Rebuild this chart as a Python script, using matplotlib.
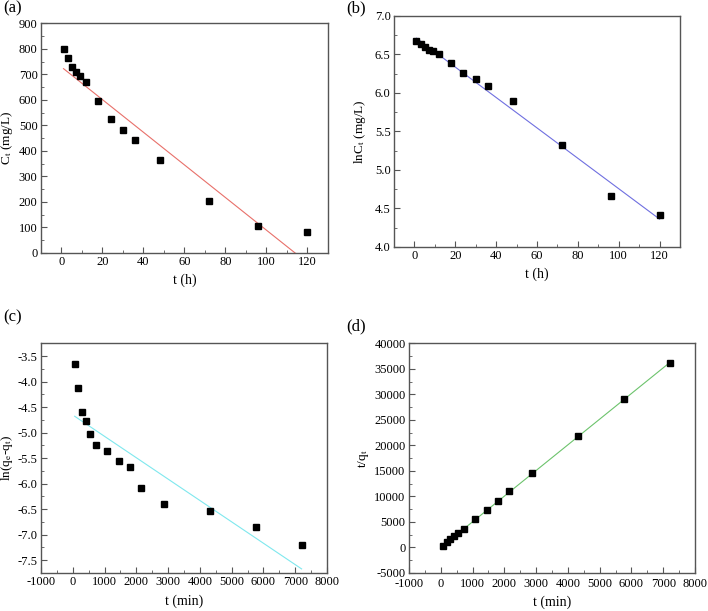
import numpy as np
import matplotlib
matplotlib.use("Agg")
import matplotlib.pyplot as plt
from matplotlib.ticker import AutoMinorLocator

plt.rcParams['font.family'] = ['Liberation Serif', 'DejaVu Serif']
plt.rcParams['mathtext.fontset'] = 'stix'
plt.rcParams['axes.unicode_minus'] = False

# ---------------- data ----------------
t_h = [1, 3, 5, 7, 9, 12, 18, 24, 30, 36, 48, 72, 96, 120]
ct = [800, 762, 728, 707, 694, 671, 596, 524, 483, 443, 363, 205, 106, 82]
ln_ct = [6.68, 6.636, 6.59, 6.56, 6.54, 6.51, 6.39, 6.26, 6.18, 6.09, 5.89, 5.32, 4.66, 4.41]
fit_a = [1, 120]
fit_a_y = [722, -38]
fit_b_y = [6.71, 4.36]

t_min = [60, 180, 300, 420, 540, 720, 1080, 1440, 1800, 2160, 2880, 4320, 5760, 7200]
ln_qe_qt = [-3.66, -4.12, -4.59, -4.77, -5.03, -5.24, -5.36, -5.56, -5.67, -6.09,
            -6.40, -6.54, -6.85, -7.21]
t_qt = [350, 1000, 1600, 2200, 2800, 3700, 5600, 7400, 9200, 11000, 14600, 21800,
        29000, 36200]
fit_c = [60, 7200]
fit_c_y = [-4.68, -7.67]
fit_d_y = [300, 36200]

fig = plt.figure(figsize=(7.08, 6.11), dpi=100)
axa = fig.add_axes([0.0579, 0.586, 0.405, 0.376])
axb = fig.add_axes([0.5565, 0.596, 0.404, 0.378])
axc = fig.add_axes([0.0579, 0.0622, 0.404, 0.376])
axd = fig.add_axes([0.5777, 0.0622, 0.404, 0.376])


def style(ax, ylab_x):
    for s in ax.spines.values():
        s.set_color('#555555')
        s.set_linewidth(1.0)
    ax.xaxis.set_minor_locator(AutoMinorLocator(2))
    ax.yaxis.set_minor_locator(AutoMinorLocator(2))
    ax.tick_params(which='both', direction='in', top=False, right=False,
                   labelsize=9, color='#555555', pad=2.5)
    ax.tick_params(which='major', length=4)
    ax.tick_params(which='minor', length=2)
    ax.yaxis.set_label_coords(ylab_x, 0.5)


mk = dict(marker='s', ls='none', color='black', ms=4.5)

# (a)
axa.plot(fit_a, fit_a_y, color='#e8706a', lw=0.8)
axa.plot(t_h, ct, **mk)
axa.set_xlim(-10, 130)
axa.set_ylim(0, 900)
axa.set_xticks(range(0, 121, 20))
axa.set_yticks(range(0, 901, 100))
axa.set_xlabel('t (h)', fontsize=10)
axa.set_ylabel('C$_{\\mathrm{t}}$ (mg/L)', fontsize=9.5)
style(axa, -0.09)

# (b)
axb.plot(fit_a, fit_b_y, color='#6f6fe0', lw=0.8)
axb.plot(t_h, ln_ct, **mk)
axb.set_xlim(-10, 130)
axb.set_ylim(4.0, 7.0)
axb.set_xticks(range(0, 121, 20))
axb.set_yticks(np.arange(4.0, 7.01, 0.5))
axb.yaxis.set_major_formatter(plt.FormatStrFormatter('%.1f'))
axb.set_xlabel('t (h)', fontsize=10)
axb.set_ylabel('lnC$_{\\mathrm{t}}$ (mg/L)', fontsize=9.5)
style(axb, -0.091)

# (c)
axc.plot(fit_c, fit_c_y, color='#7fe8ee', lw=0.8)
axc.plot(t_min, ln_qe_qt, **mk)
axc.set_xlim(-1000, 8000)
axc.set_ylim(-7.75, -3.25)
axc.set_xticks(range(-1000, 8001, 1000))
axc.set_yticks(np.arange(-7.5, -3.4, 0.5))
axc.yaxis.set_major_formatter(plt.FormatStrFormatter('%.1f'))
axc.set_xlabel('t (min)', fontsize=10)
axc.set_ylabel('ln(q$_{\\mathrm{e}}$-q$_{\\mathrm{t}}$)', fontsize=9.5)
style(axc, -0.09)

# (d)
axd.plot(fit_c, fit_d_y, color='#6cc36c', lw=0.8)
axd.plot(t_min, t_qt, **mk)
axd.set_xlim(-1000, 8000)
axd.set_ylim(-5000, 40000)
axd.set_xticks(range(-1000, 8001, 1000))
axd.set_yticks(range(-5000, 40001, 5000))
axd.set_xlabel('t (min)', fontsize=10)
axd.set_ylabel('t/q$_{\\mathrm{t}}$', fontsize=9.5)
style(axd, -0.133)
axd.tick_params(axis='x', pad=3.5)

fig.text(0.004, 0.986, '(a)', fontsize=12, va='center', ha='left')
fig.text(0.489, 0.986, '(b)', fontsize=12, va='center', ha='left')
fig.text(0.004, 0.481, '(c)', fontsize=12, va='center', ha='left')
fig.text(0.489, 0.465, '(d)', fontsize=12, va='center', ha='left')

fig.savefig('out.png', dpi=100)
